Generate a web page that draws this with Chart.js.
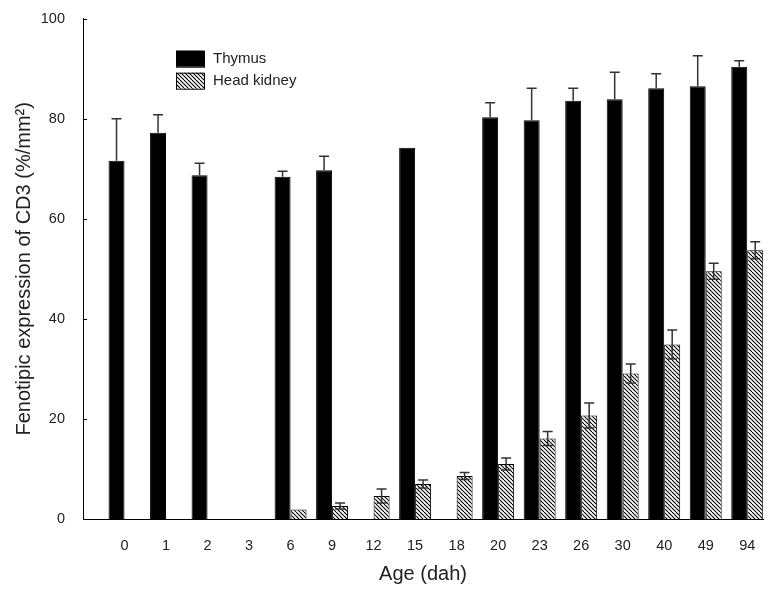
<!DOCTYPE html>
<html>
<head>
<meta charset="utf-8">
<script src="https://cdn.jsdelivr.net/npm/chart.js@4.4.1/dist/chart.umd.min.js"></script>
<style>
  body { margin: 0; background: #fff; }
</style>
</head>
<body>
<canvas id="cd3-chart" width="780" height="590"></canvas>
<script>
// ages (dah)
const ageLabels = ['0', '1', '2', '3', '6', '9', '12', '15', '18', '20', '23', '26', '30', '40', '49', '94'];

// thymus means and upper error
const thymusData = [71.6, 77.2, 68.7, null, 68.4, 69.7, null, 74.2, null, 80.3, 79.7, 83.6, 83.9, 86.1, 86.5, 90.4];
const thymusErr = [8.4, 3.6, 2.4, null, 1.1, 2.8, null, 0, null, 2.9, 6.4, 2.5, 5.4, 2.9, 6.1, 1.2];

// head kidney means and error
const kidneyData = [null, null, null, null, 1.9, 2.6, 4.6, 7.0, 8.6, 11.0, 16.1, 20.7, 29.1, 34.9, 49.5, 53.7];
const kidneyErr = [null, null, null, null, 0, 0.6, 1.4, 0.8, 0.7, 1.2, 1.4, 2.5, 1.9, 2.9, 1.6, 1.7];

const yTicks = [0, 20, 40, 60, 80, 100];

const fontFamily = '"Liberation Sans", Arial, sans-serif';

// hatch pattern for head kidney bars
function makeHatch() {
  const c = document.createElement('canvas');
  c.width = 8;
  c.height = 8;
  const g = c.getContext('2d');
  g.fillStyle = '#fff';
  g.fillRect(0, 0, 8, 8);
  g.strokeStyle = '#000';
  g.lineWidth = 1.1;
  for (let k = -8; k <= 8; k += 4) {
    g.beginPath();
    g.moveTo(k, 0);
    g.lineTo(k + 8, 8);
    g.stroke();
  }
  return g.createPattern(c, 'repeat');
}
const hatch = makeHatch();

function toPoints(arr) {
  return arr.map((v, i) => ({ x: i, y: v }));
}

// error bars, inward y ticks and the legend box
const extrasPlugin = {
  id: 'extras',
  afterDatasetsDraw(chart) {
    const ctx = chart.ctx;
    const yScale = chart.scales.y;
    ctx.save();
    ctx.strokeStyle = '#333';
    ctx.lineWidth = 1.5;
    chart.data.datasets.forEach((ds, di) => {
      const meta = chart.getDatasetMeta(di);
      meta.data.forEach((bar, i) => {
        const v = ds.data[i].y;
        const e = ds.errors[i];
        if (v == null || !e) return;
        const top = yScale.getPixelForValue(v + e);
        const bot = yScale.getPixelForValue(v - e);
        ctx.beginPath();
        ctx.moveTo(bar.x, ds.lowerWhisker ? bot : bar.y);
        ctx.lineTo(bar.x, top);
        ctx.moveTo(bar.x - 5, top);
        ctx.lineTo(bar.x + 5, top);
        if (ds.lowerWhisker) {
          ctx.moveTo(bar.x - 5, bot);
          ctx.lineTo(bar.x + 5, bot);
        }
        ctx.stroke();
      });
    });
    ctx.restore();
  },
  afterDraw(chart) {
    const ctx = chart.ctx;
    const area = chart.chartArea;
    const yScale = chart.scales.y;
    ctx.save();
    // inward ticks on y axis
    ctx.strokeStyle = '#000';
    ctx.lineWidth = 1;
    yTicks.forEach(t => {
      const py = Math.round(yScale.getPixelForValue(t)) + 0.5;
      ctx.beginPath();
      ctx.moveTo(area.left, py);
      ctx.lineTo(area.left + 4, py);
      ctx.stroke();
    });
    // legend
    const lx = area.left + 93;
    let ly = area.top + 32;
    chart.data.datasets.forEach(ds => {
      ctx.fillStyle = ds.backgroundColor;
      ctx.fillRect(lx, ly, 28, 16);
      ctx.strokeStyle = '#000';
      ctx.strokeRect(lx + 0.5, ly + 0.5, 28, 16);
      ctx.fillStyle = '#222';
      ctx.font = '15px ' + fontFamily;
      ctx.textBaseline = 'middle';
      ctx.fillText(ds.label, lx + 37, ly + 8.5);
      ly += 22;
    });
    ctx.restore();
  }
};

const ctx = document.getElementById('cd3-chart');
new Chart(ctx, {
  type: 'bar',
  data: {
    datasets: [{
      label: 'Thymus',
      data: toPoints(thymusData),
      errors: thymusErr,
      lowerWhisker: false,
      backgroundColor: '#000',
      borderColor: '#000',
      borderWidth: 1
    }, {
      label: 'Head kidney',
      data: toPoints(kidneyData),
      errors: kidneyErr,
      lowerWhisker: true,
      backgroundColor: hatch,
      borderColor: '#000',
      borderWidth: 1
    }]
  },
  options: {
    responsive: false,
    animation: false,
    categoryPercentage: 0.77,
    barPercentage: 1,
    layout: {
      padding: { top: 17, right: 17, left: 0, bottom: 0 }
    },
    scales: {
      x: {
        type: 'linear',
        offset: false,
        min: -1,
        max: 15.38,
        grid: { display: false },
        border: { display: true, color: '#000', width: 1 },
        afterBuildTicks: scale => {
          scale.ticks = ageLabels.map((_, i) => ({ value: i }));
        },
        afterFit: scale => { scale.height = 71; },
        ticks: {
          stepSize: 1,
          autoSkip: false,
          maxRotation: 0,
          padding: 10,
          color: '#222',
          font: { family: fontFamily, size: 14.5 },
          callback: v => ageLabels[v] !== undefined ? ageLabels[v] : ''
        },
        title: {
          display: true,
          text: 'Age (dah)',
          color: '#222',
          font: { family: fontFamily, size: 20 },
          padding: { top: 0, bottom: 4 }
        }
      },
      y: {
        min: 0,
        max: 100,
        grid: { display: false },
        border: { display: true, color: '#000', width: 1 },
        afterFit: scale => { scale.width = 83; },
        ticks: {
          stepSize: 20,
          padding: 10,
          color: '#222',
          font: { family: fontFamily, size: 14.5 }
        },
        title: {
          display: true,
          text: 'Fenotipic expression of CD3 (%/mm²)',
          color: '#222',
          font: { family: fontFamily, size: 20 },
          padding: { top: 12, bottom: 0 }
        }
      }
    },
    plugins: {
      legend: { display: false },
      tooltip: { enabled: false }
    }
  },
  plugins: [extrasPlugin]
});
</script>
</body>
</html>
